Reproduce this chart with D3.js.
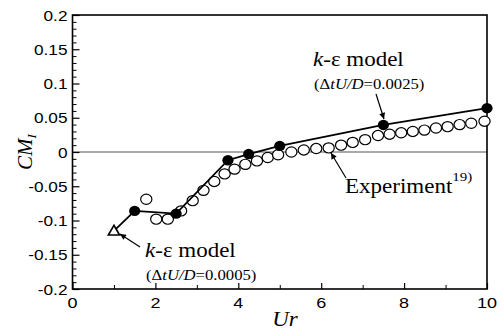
<!DOCTYPE html>
<html>
<head>
<meta charset="utf-8">
<script src="https://cdn.jsdelivr.net/npm/d3@7"></script>
<style>
  html, body { margin: 0; padding: 0; background: #fff; }
  svg { display: block; }
</style>
</head>
<body>
<svg id="chart" width="497" height="333"></svg>
<script>
// k-epsilon model, time step 0.0025
const modelUr = [1, 1.5, 2.5, 3.75, 4.25, 5, 7.5, 10];
const modelCM = [-0.115, -0.086, -0.090, -0.012, -0.003, 0.009, 0.0395, 0.064];

// k-epsilon model, time step 0.0005
const fineUr = [1];
const fineCM = [-0.115];

// Experiment
const expUr = [1.78, 2.02, 2.30, 2.62, 2.90, 3.16, 3.42, 3.67, 3.91, 4.17, 4.45, 4.71, 4.96,
               5.28, 5.58, 5.88, 6.18, 6.48, 6.76, 7.06, 7.37, 7.65, 7.93, 8.21, 8.49, 8.77,
               9.05, 9.34, 9.62, 9.94];
const expCM = [-0.069, -0.098, -0.098, -0.086, -0.071, -0.056, -0.043, -0.032, -0.025, -0.018,
               -0.013, -0.008, -0.004, 0.000, 0.003, 0.005, 0.006, 0.010, 0.014, 0.018, 0.024,
               0.026, 0.028, 0.030, 0.032, 0.035, 0.037, 0.040, 0.042, 0.045];

const xMajor = [0, 2, 4, 6, 8, 10];
const xMinor = [1, 3, 5, 7, 9];
const yMajor = [-0.2, -0.15, -0.1, -0.05, 0, 0.05, 0.1, 0.15, 0.2];
const yLabels = ["-0.2", "-0.15", "-0.1", "-0.05", "0", "0.05", "0.1", "0.15", "0.2"];

const svg = d3.select("#chart");
const L = 72.5, R = 487, T = 15, B = 289;

const x = d3.scaleLinear().domain([0, 10]).range([L, R]);
const y = d3.scaleLinear().domain([-0.2, 0.2]).range([B, T]);

const sans = "'Liberation Sans', Arial, sans-serif";
const serif = "'Liberation Serif', 'Times New Roman', serif";
const SX = 1.15; // horizontal stretch applied to the lettering

// text placed at (px, py), widened horizontally by SX
function label(px, py, opts) {
  const g = svg.append("g").attr("transform", `translate(${px},${py}) scale(${opts.sx || SX},1)`);
  return g.append("text")
    .attr("text-anchor", opts.anchor || "start")
    .attr("font-family", opts.family || serif)
    .attr("font-size", opts.size || 14);
}

// zero reference line
svg.append("line")
  .attr("x1", L).attr("x2", R).attr("y1", y(0)).attr("y2", y(0))
  .attr("stroke", "#555").attr("stroke-width", 1);

// left axis: inward ticks, minor every 0.01
const yMinor = d3.range(-20, 21).map(d => d / 100).filter(v => Math.abs(Math.round(v * 100) % 5) !== 0);
const gl = svg.append("g").attr("transform", `translate(${L},0)`)
  .call(d3.axisRight(y).tickValues(yMajor).tickSize(7).tickFormat(""));
gl.select(".domain").remove();
gl.selectAll("line").attr("stroke", "#000").attr("stroke-width", 1.2);
const glm = svg.append("g").attr("transform", `translate(${L},0)`)
  .call(d3.axisRight(y).tickValues(yMinor).tickSize(4).tickFormat(""));
glm.select(".domain").remove();
glm.selectAll("line").attr("stroke", "#000").attr("stroke-width", 1);

// y tick labels
yMajor.forEach((d, i) => {
  label(L - 5, y(d) + 5.5, { family: sans, size: 15, anchor: "end" }).text(yLabels[i]);
});

// bottom axis: inward ticks
const gb = svg.append("g").attr("transform", `translate(0,${B})`)
  .call(d3.axisTop(x).tickValues(xMajor).tickSize(6).tickFormat(""));
gb.select(".domain").remove();
gb.selectAll("line").attr("stroke", "#000").attr("stroke-width", 1.2);
const gbm = svg.append("g").attr("transform", `translate(0,${B})`)
  .call(d3.axisTop(x).tickValues(xMinor).tickSize(4).tickFormat(""));
gbm.select(".domain").remove();
gbm.selectAll("line").attr("stroke", "#000").attr("stroke-width", 1);

xMajor.forEach(d => {
  label(x(d), B + 18.5, { family: sans, size: 15, anchor: "middle", sx: 1.2 }).text(d);
});

// frame
svg.append("rect")
  .attr("x", L).attr("y", T).attr("width", R - L).attr("height", B - T)
  .attr("fill", "none").attr("stroke", "#000").attr("stroke-width", 1.6);

// axis titles
label(285, 326, { size: 20, anchor: "middle" })
  .attr("font-style", "italic").text("Ur");

const yt = svg.append("text")
  .attr("transform", "translate(32,152) rotate(-90)")
  .attr("text-anchor", "middle")
  .attr("font-family", serif).attr("font-style", "italic").attr("font-size", 21);
yt.append("tspan").text("CM");
yt.append("tspan").attr("font-size", 13).attr("dy", 4).text("I");

// experiment: open circles
svg.append("g").selectAll("ellipse").data(expUr).join("ellipse")
  .attr("cx", d => x(d)).attr("cy", (d, i) => y(expCM[i]))
  .attr("rx", 5.6).attr("ry", 5.1)
  .attr("fill", "#fff").attr("stroke", "#000").attr("stroke-width", 1.2);

// model line and filled markers
const line = d3.line().x(d => x(d[0])).y(d => y(d[1]));
svg.append("path")
  .datum(modelUr.map((u, i) => [u, modelCM[i]]))
  .attr("d", line)
  .attr("fill", "none").attr("stroke", "#000").attr("stroke-width", 1.8);

svg.append("g").selectAll("ellipse").data(modelUr.slice(1)).join("ellipse")
  .attr("cx", d => x(d)).attr("cy", (d, i) => y(modelCM[i + 1]))
  .attr("rx", 5.6).attr("ry", 5.2).attr("fill", "#000");

// fine time step: open triangle
const tri = d3.symbol().type(d3.symbolTriangle).size(55);
svg.append("g").selectAll("path").data(fineUr).join("path")
  .attr("transform", (d, i) => `translate(${x(d)},${y(fineCM[i]) + 1})`)
  .attr("d", tri)
  .attr("fill", "#fff").attr("stroke", "#000").attr("stroke-width", 1.6);

// arrow marker
const defs = svg.append("defs");
defs.append("marker")
  .attr("id", "arr").attr("viewBox", "0 0 10 10")
  .attr("refX", 10).attr("refY", 5)
  .attr("markerWidth", 10).attr("markerHeight", 6)
  .attr("markerUnits", "userSpaceOnUse")
  .attr("orient", "auto")
  .append("path").attr("d", "M0,0 L10,5 L0,10 Z").attr("fill", "#000");

function arrow(x1, y1, x2, y2) {
  svg.append("line")
    .attr("x1", x1).attr("y1", y1).attr("x2", x2).attr("y2", y2)
    .attr("stroke", "#000").attr("stroke-width", 1.2)
    .attr("marker-end", "url(#arr)");
}

function modelLabel(px, py, dt) {
  const a = label(px, py, { size: 20 });
  a.append("tspan").attr("font-style", "italic").text("k");
  a.append("tspan").text("-ε model");
  const b = label(px + 1, py + 23, { size: 14.5 });
  b.append("tspan").text("(Δ");
  b.append("tspan").attr("font-style", "italic").text("tU/D");
  b.append("tspan").text("=" + dt + ")");
}

// upper annotation
modelLabel(313, 66, "0.0025");
arrow(376, 94, 384, 119);

// lower annotation
modelLabel(145, 257, "0.0005");
arrow(140, 247, 120, 234);

// experiment annotation
const e = label(345, 193, { size: 20 });
e.append("tspan").text("Experiment");
e.append("tspan").attr("font-size", 13).attr("dy", -12).text("19)");
arrow(346, 178, 331, 153);
</script>
</body>
</html>
